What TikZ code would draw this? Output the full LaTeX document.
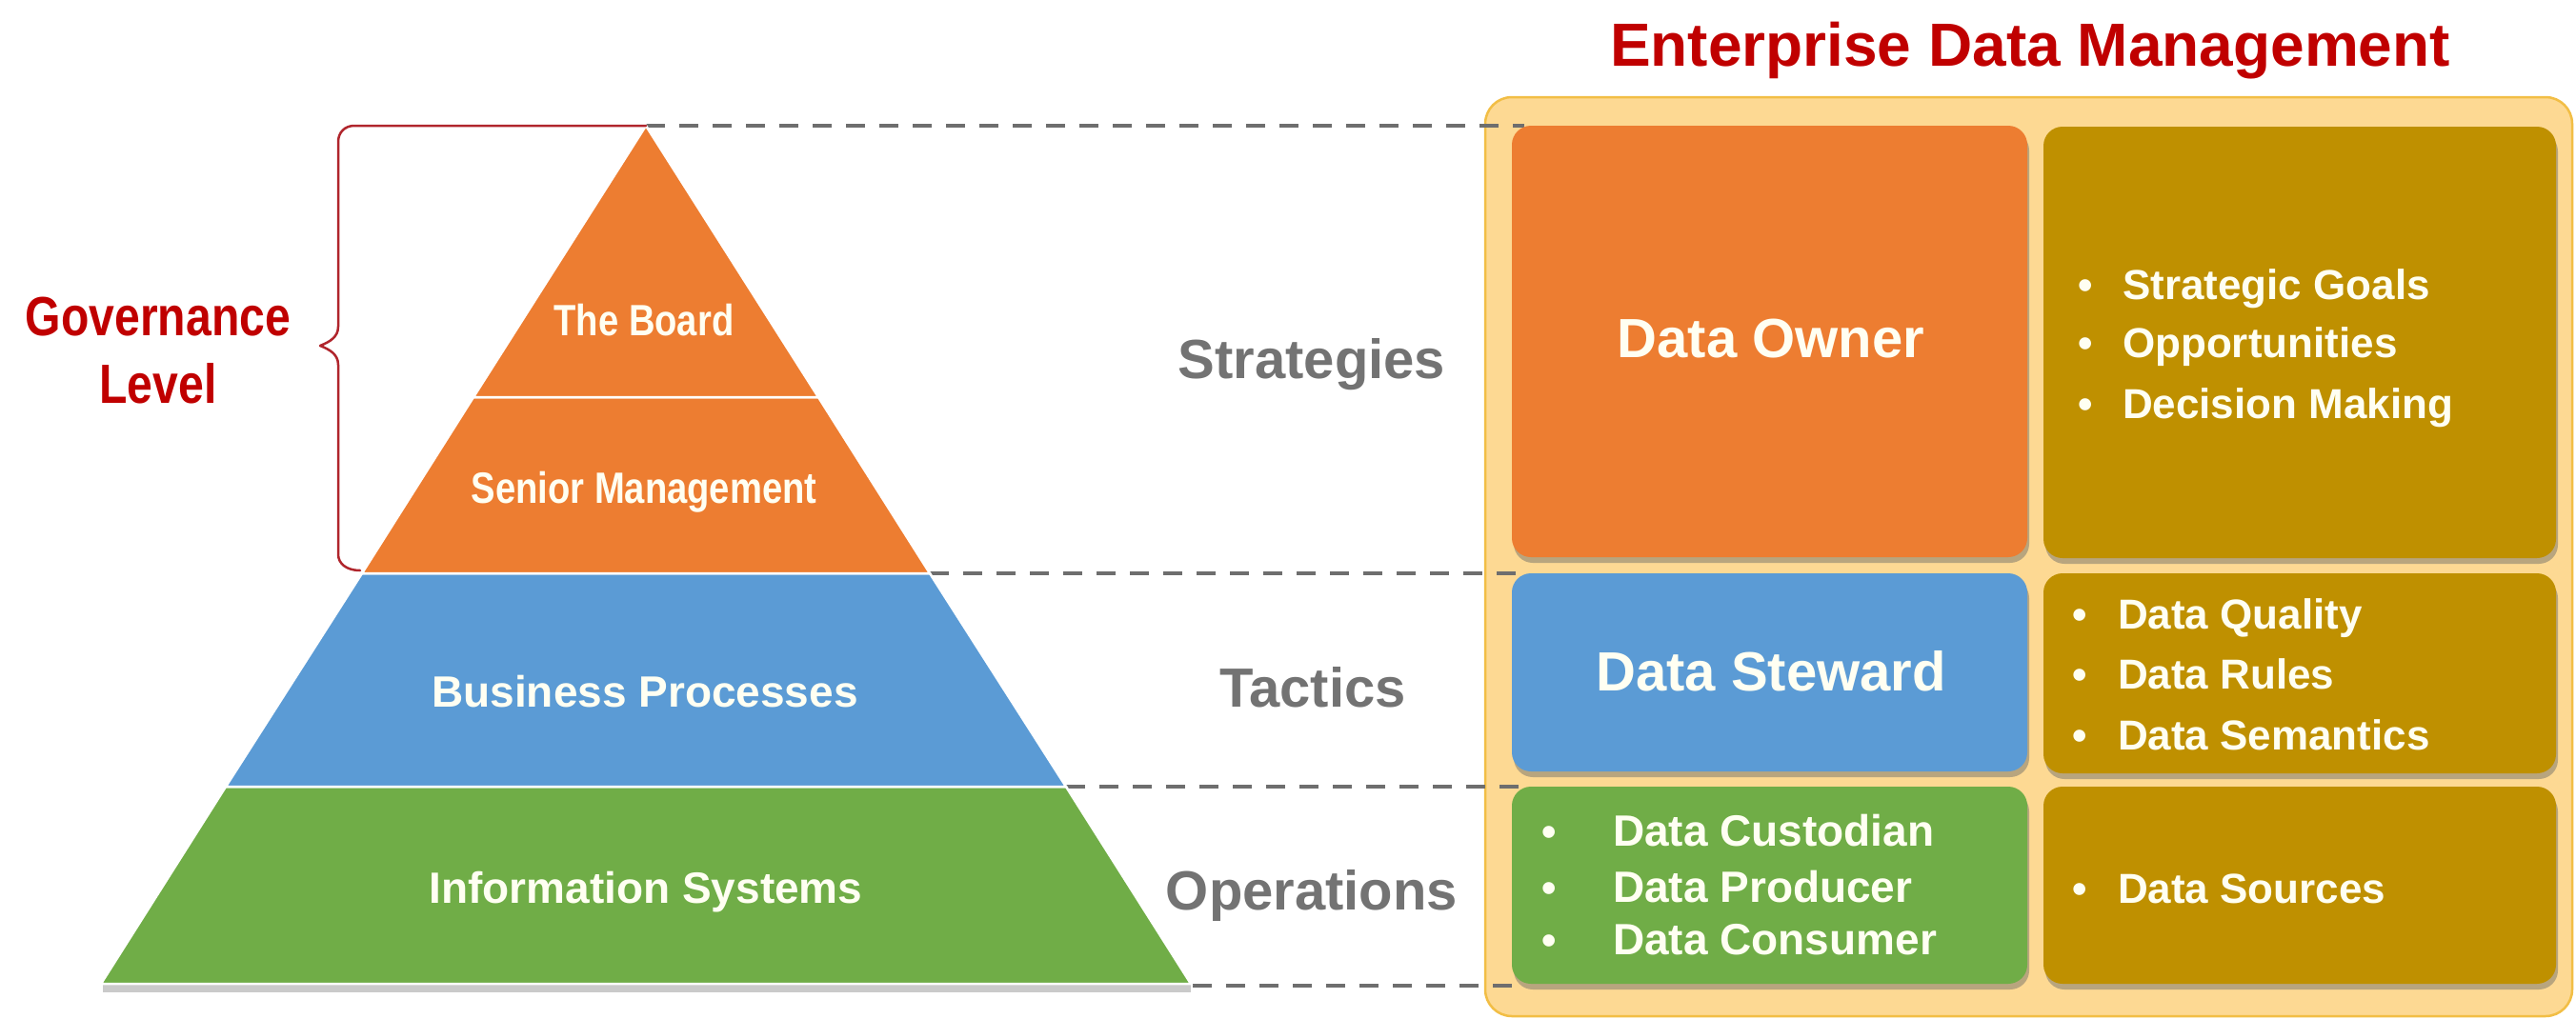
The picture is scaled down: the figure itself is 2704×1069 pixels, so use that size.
\documentclass[tikz,border=0pt]{standalone}
\usepackage{fontspec}
\setmainfont{Liberation Sans}
\newfontfamily\condf{Liberation Sans}[FakeStretch=0.83]
\usetikzlibrary{shadows}
\newcommand\myfs[1]{\fontsize{#1}{#1}\selectfont}
\definecolor{cOrange}{HTML}{ED7D31}
\definecolor{cBlue}{HTML}{5B9BD5}
\definecolor{cGreen}{HTML}{70AD47}
\definecolor{cGold}{HTML}{BF9000}
\definecolor{cOuterFill}{HTML}{FDD993}
\definecolor{cOuterLine}{HTML}{F2BE45}
\definecolor{cRed}{HTML}{C00000}
\definecolor{cBrace}{HTML}{B0252C}
\definecolor{cGrayTxt}{HTML}{737373}
\definecolor{cDash}{HTML}{6E6E6E}
\definecolor{cCream}{HTML}{FFFFF2}
\begin{document}
\begin{tikzpicture}[x=1pt,y=-1pt,
  txt/.style={inner sep=0pt, outer sep=0pt, anchor=base},
  ltxt/.style={inner sep=0pt, outer sep=0pt, anchor=base west},
  pyrlbl/.style={txt, text=cCream, font=\condf\bfseries\myfs{46}},
  pyrlbl2/.style={txt, text=cCream, font=\bfseries\myfs{46}},
  sidelbl/.style={txt, text=cGrayTxt, font=\bfseries\myfs{58}},
  redlbl/.style={txt, text=cRed, font=\condf\bfseries\myfs{58}},
  rolelbl/.style={txt, text=cCream, font=\bfseries\myfs{58}},
  itemlbl/.style={ltxt, text=cCream, font=\bfseries\myfs{44}},
  gitemlbl/.style={ltxt, text=cCream, font=\bfseries\myfs{46}},
  bul/.style={txt, text=cCream, font=\bfseries\myfs{44}},
  cell/.style={rounded corners=20pt, inner sep=0pt, outer sep=0pt, draw=none,
    drop shadow={shadow xshift=2pt, shadow yshift=-6pt, opacity=0.45, fill=black!60}},
  dashln/.style={draw=cDash, line width=4.5pt, dash pattern=on 20pt off 15pt},
  layer/.style={draw=white, line width=2.5pt, line join=miter}
]
\useasboundingbox (0,0) rectangle (2704,1069);

% ---------- outer EDM frame ----------
\node[rounded corners=28pt, fill=cOuterFill, draw=cOuterLine, line width=2.5pt,
      minimum width=1141pt, minimum height=965pt, inner sep=0pt] (frame) at (2129.5,584.5) {};

% ---------- coordinates ----------
\coordinate (apex) at (678,132);
\coordinate (L1) at (497,417);  \coordinate (R1) at (859,417);
\coordinate (L2) at (380,602);  \coordinate (R2) at (976,602);
\coordinate (L3) at (237,826);  \coordinate (R3) at (1119,826);
\coordinate (L4) at (106,1033); \coordinate (R4) at (1250,1033);
\coordinate (d1) at (1600,132);
\coordinate (d2) at (1600,602);
\coordinate (d3) at (1600,826);
\coordinate (d4) at (1600,1035);
\coordinate (R4b) at (1252,1035);

% ---------- dashed guide lines ----------
\draw[dashln] (apex) -- (d1);
\draw[dashln] (R2) -- (d2);
\draw[dashln] (R3) -- (d3);
\draw[dashln] (R4b) -- (d4);

% ---------- cells ----------
\node[cell, fill=cOrange, minimum width=541pt, minimum height=453pt] (owner) at (1857.5,358.5) {};
\node[cell, fill=cGold, minimum width=538pt, minimum height=453pt] (strat) at (2414,359.5) {};
\node[cell, fill=cBlue, minimum width=541pt, minimum height=208pt] (steward) at (1857.5,706) {};
\node[cell, fill=cGold, minimum width=538pt, minimum height=210pt] (tact) at (2414,707) {};
\node[cell, fill=cGreen, minimum width=541pt, minimum height=207pt] (custod) at (1857.5,929.5) {};
\node[cell, fill=cGold, minimum width=538pt, minimum height=207pt] (oper) at (2414,929.5) {};

% ---------- title ----------
\node[txt, text=cRed, font=\bfseries\myfs{64}] (title) at (2131,69) {Enterprise Data Management};

% ---------- cell texts ----------
\node[rolelbl] (ownerT) at (1859,375) {Data Owner};
\node[rolelbl] (stewT) at (1859,725) {Data Steward};

\node[bul] (b11) at (2189,314) {\textbullet};
\node[itemlbl] (t11) at (2228,314) {Strategic Goals};
\node[bul] (b12) at (2189,375) {\textbullet};
\node[itemlbl] (t12) at (2228,375) {Opportunities};
\node[bul] (b13) at (2189,439) {\textbullet};
\node[itemlbl] (t13) at (2228,439) {Decision Making};

\node[bul] (b21) at (2183,660) {\textbullet};
\node[itemlbl] (t21) at (2223,660) {Data Quality};
\node[bul] (b22) at (2183,723) {\textbullet};
\node[itemlbl] (t22) at (2223,723) {Data Rules};
\node[bul] (b23) at (2183,787) {\textbullet};
\node[itemlbl] (t23) at (2223,787) {Data Semantics};

\node[bul] (b31) at (1626,888) {\textbullet};
\node[gitemlbl] (t31) at (1693,888) {Data Custodian};
\node[bul] (b32) at (1626,947) {\textbullet};
\node[gitemlbl] (t32) at (1693,947) {Data Producer};
\node[bul] (b33) at (1626,1002) {\textbullet};
\node[gitemlbl] (t33) at (1693,1002) {Data Consumer};

\node[bul] (b41) at (2183,948) {\textbullet};
\node[itemlbl] (t41) at (2223,948) {Data Sources};

% ---------- pyramid ----------
\fill[black!35, opacity=0.6] (108,1033) rectangle (1250,1042);
\filldraw[layer, fill=cGreen] (L3) -- (R3) -- (R4) -- (L4) -- cycle;
\filldraw[layer, fill=cBlue] (L2) -- (R2) -- (R3) -- (L3) -- cycle;
\filldraw[layer, fill=cOrange] (L1) -- (R1) -- (R2) -- (L2) -- cycle;
\filldraw[layer, fill=cOrange] (apex) -- (R1) -- (L1) -- cycle;

\node[pyrlbl] (board) at (676,352) {The Board};
\node[pyrlbl] (senior) at (676,528) {Senior Management};
\node[pyrlbl2] (bp) at (677,742) {Business Processes};
\node[pyrlbl2] (is) at (678,948) {Information Systems};

% ---------- side labels ----------
\node[sidelbl] (strategies) at (1377,397) {Strategies};
\node[sidelbl] (tactics) at (1378,742) {Tactics};
\node[sidelbl] (operations) at (1377,955) {Operations};

% ---------- governance brace ----------
\coordinate (brTop) at (372,132);
\coordinate (brTip) at (336,363);
\coordinate (brEnd) at (378,599);
\draw[cBrace, line width=2.5pt, line cap=round, line join=round]
  (apex) -- (brTop) .. controls (362,132) and (355,139) .. (355,149)
  -- (355,343) .. controls (355,354) and (346,359) .. (brTip)
  .. controls (346,367) and (355,372) .. (355,383)
  -- (355,582) .. controls (355,592) and (364,599) .. (brEnd);

\node[redlbl] (gov1) at (166,352) {Governance};
\node[redlbl] (gov2) at (166,423) {Level};

\end{tikzpicture}
\end{document}
